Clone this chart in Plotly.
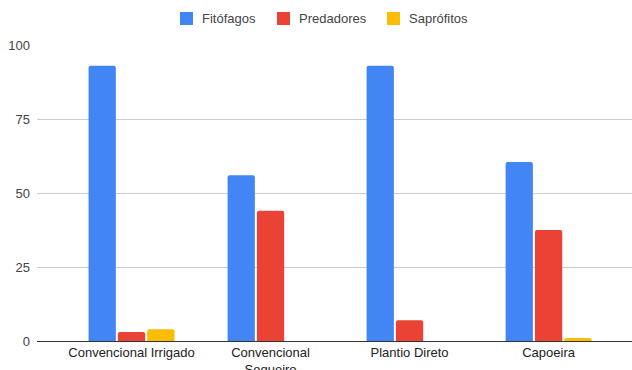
import plotly.graph_objects as go

# Categorias de manejo e proporções (%) de cada grupo funcional
categorias = ["Convencional Irrigado", "Convencional<br>Sequeiro", "Plantio Direto", "Capoeira"]
fitofagos = [93, 56, 93, 60.5]
predadores = [3, 44, 7, 37.5]
saprofitos = [4, 0, 0, 1]
ticks_y = [0, 25, 50, 75, 100]

series = ["Fitófagos", "Predadores", "Saprófitos"]
cores = {"Fitófagos": "#4285F4", "Predadores": "#EA4335", "Saprófitos": "#FBBC04"}

# geometria da área de plotagem (px)
W, H = 632, 370
ML, MR, MT, MB = 37, 0, 45, 29
PW, PH = W - ML - MR, H - MT - MB

def px_x(x):
    return (x - ML) / PW

def px_y(y):
    return (H - MB - y) / PH

fig = go.Figure()
for nome, valores in zip(series, [fitofagos, predadores, saprofitos]):
    fig.add_trace(go.Bar(
        x=categorias, y=valores, name=nome,
        marker=dict(color=cores[nome], line=dict(width=0)),
        showlegend=False,
    ))

# legenda horizontal no topo: quadrado colorido + rótulo
leg_x = [180, 277, 387]
for nome, x0 in zip(series, leg_x):
    fig.add_shape(
        type="rect", xref="paper", yref="paper",
        x0=px_x(x0), x1=px_x(x0 + 13), y0=px_y(25), y1=px_y(12),
        fillcolor=cores[nome], line=dict(width=0), layer="above",
    )
    fig.add_annotation(
        text=nome, xref="paper", yref="paper",
        x=px_x(x0 + 20), y=px_y(18.5), xanchor="left", yanchor="middle",
        showarrow=False, font=dict(size=13, color="#444444"),
    )

fig.update_layout(
    width=W, height=H,
    margin=dict(l=ML, r=MR, t=MT, b=MB, autoexpand=False),
    paper_bgcolor="white", plot_bgcolor="white",
    font=dict(family="Liberation Sans, Arial, sans-serif", size=13, color="#444444"),
    barmode="group", bargap=0.367, bargroupgap=0.07,
    barcornerradius=2,
    xaxis=dict(
        range=[-0.68, 3.6], showgrid=False, showline=False, zeroline=False,
        tickfont=dict(size=13, color="#222222"), ticks="", automargin=False,
        ticklabelstandoff=2,
    ),
    yaxis=dict(
        range=[0, 100], tickvals=ticks_y, showgrid=True, gridcolor="#cccccc",
        gridwidth=1, zeroline=True, zerolinecolor="#333333", zerolinewidth=1,
        tickfont=dict(size=13, color="#444444"), ticklabelstandoff=6,
        automargin=False,
    ),
)

fig.write_html("out.html")
